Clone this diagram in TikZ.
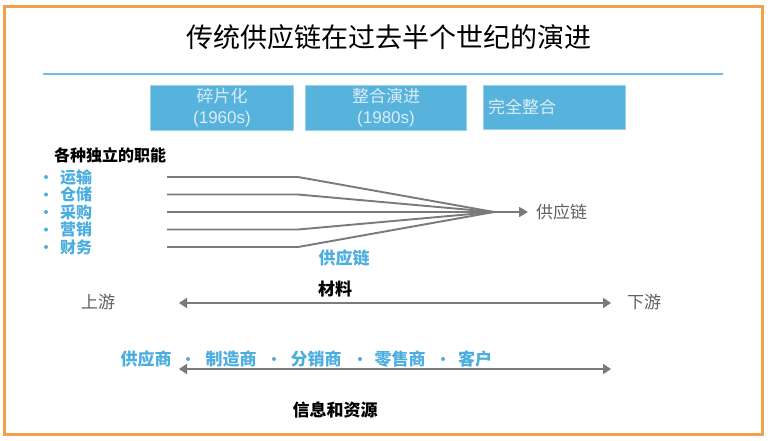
\documentclass[tikz,border=0pt]{standalone}
\usepackage{fontspec}
\setmainfont{Liberation Sans}
\newfontfamily\cjk{Noto Sans CJK SC}
\usetikzlibrary{arrows.meta, positioning, calc}
\definecolor{frameorange}{HTML}{F59F4C}
\definecolor{boxblue}{HTML}{57B2DC}
\definecolor{boxtext}{HTML}{D9EDF8}
\definecolor{textblue}{HTML}{4BAEDF}
\definecolor{linegray}{HTML}{7A7A7A}
\definecolor{sidegray}{HTML}{606060}

\begin{document}
\begin{tikzpicture}[x=1pt, y=-1pt,
    stagebox/.style={fill=boxblue, draw=boxblue!60!white, line width=0.8pt, inner sep=0pt,
        minimum height=45pt, text=boxtext, font=\fontsize{17}{21}\selectfont, align=center},
    fanline/.style={linegray, line width=1.9pt},
    flowarrow/.style={linegray, line width=1.9pt, {Triangle[length=8pt,width=10pt]}-{Triangle[length=8pt,width=10pt]}},
    bluetext/.style={text=textblue, font=\cjk\bfseries\fontsize{16}{16}\selectfont, inner sep=0pt}]
    \useasboundingbox (0,0) rectangle (770,440);

    % Frame and title
    \draw[frameorange, line width=3pt] (4,6) rectangle (762,434);
    \node (title) at (389,37) {\cjk\fontsize{27}{30}\selectfont 传统供应链在过去半个世纪的演进};
    \draw[textblue!80!white, line width=2pt] (43,74) -- (723,74);

    % Stages
    \node[stagebox, minimum width=143pt] (frag) at (222,108) {{\cjk 碎片化}\\(1960s)};
    \node[stagebox, minimum width=161pt] (evol) at (386,108) {{\cjk 整合演进}\\(1980s)};
    \node[stagebox, minimum width=142pt, minimum height=44pt, text width=132pt, align=left] (full) at (554,107) {\cjk 完全整合};

    % Independent functions
    \node[anchor=west, font=\cjk\bfseries\fontsize{16}{16}\selectfont, inner sep=0pt] (funcs) at (54,155) {各种独立的职能};
    \coordinate (hub) at (494,212);
    \foreach \name [count=\i] in {运输,仓储,采购,营销,财务} {
        \fill[textblue] (46,{159.5+\i*17.5}) circle (2pt);
        \node[bluetext, anchor=west] (f\i) at (60,{159.5+\i*17.5}) {\name};
        \coordinate (s\i) at (167,{159.5+\i*17.5});
        \draw[fanline] (s\i) -- ++(131,0) -- (hub);
    }

    % Merged chain
    \node[anchor=west, text=sidegray, font=\cjk\fontsize{17}{17}\selectfont, inner sep=0pt] (chain) at (536,212) {供应链};
    \draw[fanline, -{Triangle[length=9pt,width=10pt]}, shorten >=8pt] (hub) -- (chain.west);
    \node[bluetext, font=\cjk\bfseries\fontsize{17}{17}\selectfont] (chainlbl) at (344,258) {供应链};

    % Material flow
    \node[text=sidegray, font=\cjk\fontsize{17}{17}\selectfont, inner sep=0pt] (up) at (98,302) {上游};
    \node[text=sidegray, font=\cjk\fontsize{17}{17}\selectfont, inner sep=0pt] (down) at (644,302) {下游};
    \coordinate (m1) at (179,303);
    \coordinate (m2) at (611,303);
    \draw[flowarrow] (m1) -- (m2);
    \node[font=\cjk\bfseries\fontsize{17}{17}\selectfont, inner sep=0pt] (mat) at (335,289) {材料};

    % Members
    \foreach \name/\x in {供应商/146, 制造商/231, 分销商/316, 零售商/400, 客户/475}
        \node[bluetext, font=\cjk\bfseries\fontsize{17}{17}\selectfont] (p\x) at (\x,359) {\name};
    \foreach \x in {188,274,360,443}
        \fill[textblue] (\x,359) circle (2pt);

    % Information flow
    \coordinate (i1) at (179,369);
    \coordinate (i2) at (611,369);
    \draw[flowarrow] (i1) -- (i2);
    \node[font=\cjk\bfseries\fontsize{17}{17}\selectfont, inner sep=0pt] (info) at (335,410) {信息和资源};
\end{tikzpicture}
\end{document}
